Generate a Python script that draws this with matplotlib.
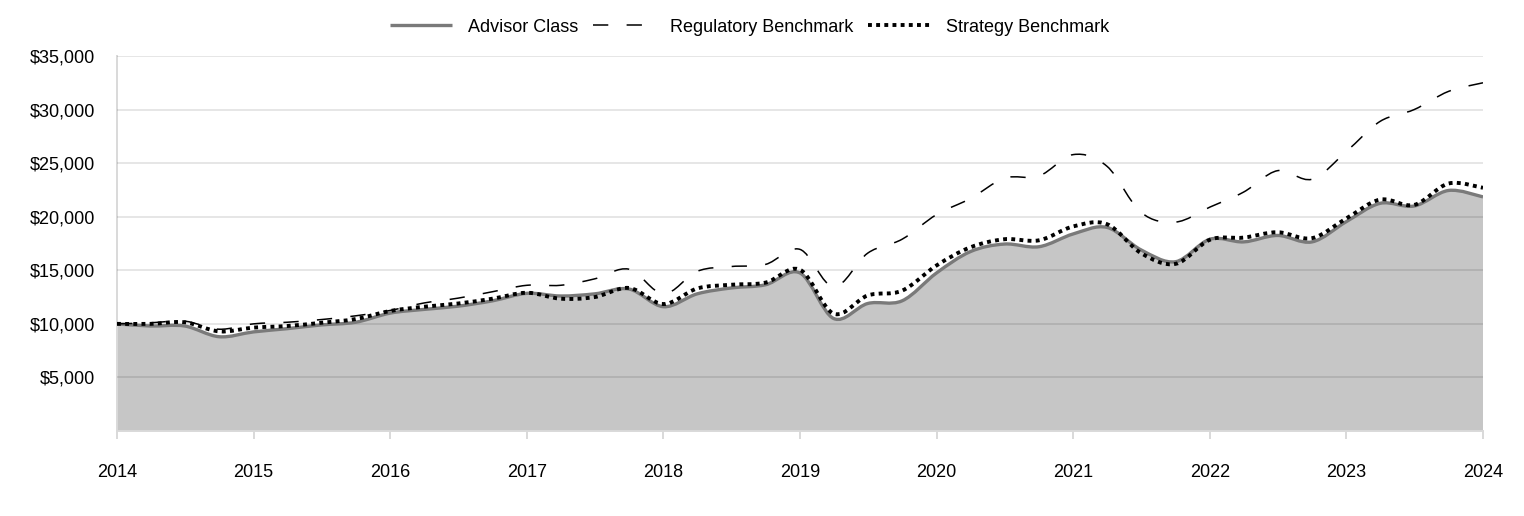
# %%
# Growth of $10,000 chart: Advisor Class vs benchmarks, quarterly values
import numpy as np
import pandas as pd
import matplotlib
matplotlib.use('Agg')
import matplotlib.pyplot as plt
import matplotlib.dates as mdates
from matplotlib.path import Path
from matplotlib.patches import PathPatch
from matplotlib.lines import Line2D

plt.rcParams['font.family'] = ['Liberation Sans', 'DejaVu Sans']

# %%
# quarterly dates from Jan 2014 to Jan 2024
dates = pd.date_range('2014-01-01', '2024-01-01', freq='QS')

advisor = [10000, 9800, 9800, 8800, 9250, 9550, 9900, 10150, 11000, 11350,
           11650, 12150, 12850, 12600, 12800, 13250, 11600, 12800, 13350, 13650,
           14750, 10500, 11900, 12150, 14750, 16750, 17450, 17200, 18400, 19000,
           16900, 15800, 17900, 17650, 18250, 17650, 19550, 21250, 21000, 22450,
           21850]

regulatory = [10000, 10100, 10250, 9500, 10000, 10150, 10400, 10750, 11250, 11950,
              12400, 13000, 13600, 13600, 14200, 15100, 12800, 14900, 15350, 15550,
              16950, 13450, 16600, 17900, 20200, 21700, 23600, 23800, 25800, 24700,
              20400, 19500, 20900, 22300, 24300, 23500, 26100, 28900, 30000, 31700,
              32500]

strategy = [10000, 10000, 10150, 9300, 9650, 9800, 10100, 10450, 11200, 11600,
            11900, 12350, 12900, 12350, 12500, 13350, 11850, 13300, 13650, 13850,
            15050, 10950, 12650, 13100, 15450, 17150, 17900, 17800, 19100, 19300,
            16600, 15600, 17850, 18050, 18550, 18000, 19850, 21600, 21100, 23100,
            22700]

series_names = ['Advisor Class', 'Regulatory Benchmark', 'Strategy Benchmark']
y_ticks = [5000, 10000, 15000, 20000, 25000, 30000, 35000]


# %%
def smooth_path(x, y, close_to=None):
    """Builds a smoothed (Catmull-Rom style) bezier path through the points,
    like the smoothed lines in a spreadsheet chart.
    close_to = y value to close the path down to (for the area fill)"""
    pts = np.column_stack([x, y])
    padded = np.vstack([pts[0], pts, pts[-1]])
    verts = [pts[0]]
    codes = [Path.MOVETO]
    for i in range(len(pts) - 1):
        p0, p1, p2, p3 = padded[i], padded[i + 1], padded[i + 2], padded[i + 3]
        verts += [p1 + (p2 - p0) / 6, p2 - (p3 - p1) / 6, p2]
        codes += [Path.CURVE4] * 3
    if close_to is not None:
        verts += [(x[-1], close_to), (x[0], close_to), pts[0]]
        codes += [Path.LINETO, Path.LINETO, Path.CLOSEPOLY]
    return Path(verts, codes)


# %%
xs = mdates.date2num(dates)

fig = plt.figure(figsize=(15.24, 5.16), dpi=100)
ax = fig.add_axes([117 / 1524, 1 - 431 / 516, 1366 / 1524, 375 / 516])

styles = {
    'Advisor Class': dict(color='#7a7a7a', lw=2.4, ls='-'),
    'Regulatory Benchmark': dict(color='black', lw=1.1, ls=(0, (10, 12))),
    'Strategy Benchmark': dict(color='black', lw=2.8, ls=(0, (1, 1.1))),
}

# area under the Advisor Class line
ax.add_patch(PathPatch(smooth_path(xs, advisor, close_to=0),
                       facecolor='#c6c6c6', edgecolor='none', zorder=1))

for name, vals in zip(series_names, [advisor, regulatory, strategy]):
    st = styles[name]
    ax.add_patch(PathPatch(smooth_path(xs, vals), facecolor='none',
                           edgecolor=st['color'], lw=st['lw'], ls=st['ls'],
                           capstyle='butt', zorder=3))

ax.set_xlim(xs[0], xs[-1])
ax.set_ylim(0, 35000)

ax.xaxis.set_major_locator(mdates.YearLocator())
ax.xaxis.set_major_formatter(mdates.DateFormatter('%Y'))
ax.set_yticks(y_ticks)
ax.set_yticklabels(['${:,.0f}'.format(v) for v in y_ticks])

ax.grid(axis='y', color='black', alpha=0.1, lw=1.4)
ax.set_axisbelow(False)
ax.tick_params(axis='y', length=0, pad=16, labelsize=13)
ax.tick_params(axis='x', length=6, width=1.4, color='#d9d9d9', pad=18,
               labelsize=13)

for side in ['top', 'right']:
    ax.spines[side].set_visible(False)
for side in ['left', 'bottom']:
    ax.spines[side].set_color('#d9d9d9')
    ax.spines[side].set_linewidth(1.4)

handles = [Line2D([], [], color=styles[n]['color'], lw=styles[n]['lw'],
                  ls=styles[n]['ls'], solid_capstyle='butt', dash_capstyle='butt')
           for n in series_names]
fig.legend(handles, series_names, loc='center',
           bbox_to_anchor=(0.492, 1 - 27 / 516),
           ncol=3, frameon=False, fontsize=13, handlelength=3.4,
           handletextpad=0.9, columnspacing=0.8)

fig.savefig('out.png', dpi=100)
